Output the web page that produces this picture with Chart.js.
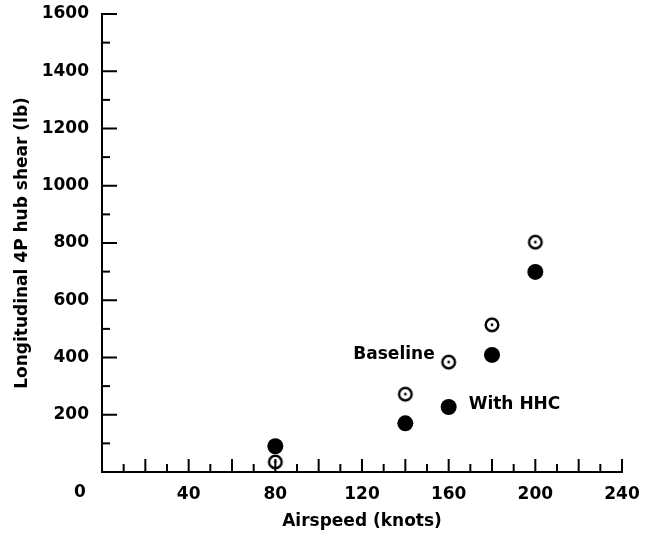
<!DOCTYPE html>
<html>
<head>
<meta charset="utf-8">
<script src="https://cdn.jsdelivr.net/npm/chart.js@4.4.1/dist/chart.umd.min.js"></script>
<style>
  html, body { margin: 0; padding: 0; background: #fff; }
  #wrap { width: 649px; height: 544px; }
</style>
</head>
<body>
<div id="wrap"><canvas id="chart" width="649" height="544"></canvas></div>
<script>
const airspeed = [80, 140, 160, 180, 200];
const baseline = [35, 272, 384, 514, 803];
const withHHC = [90, 170, 227, 409, 699];
const xTickLabels = [0, 40, 80, 120, 160, 200, 240];
const yTickLabels = [200, 400, 600, 800, 1000, 1200, 1400, 1600];

const FONT = '"DejaVu Sans", "Liberation Sans", Arial, sans-serif';

// open circle with a dot in the middle
const ringDot = document.createElement('canvas');
ringDot.width = 18;
ringDot.height = 18;
(function () {
    const c = ringDot.getContext('2d');
    c.strokeStyle = '#000';
    c.lineWidth = 2.4;
    c.beginPath();
    c.arc(9, 9, 6.3, 0, Math.PI * 2);
    c.stroke();
    c.fillStyle = '#000';
    c.beginPath();
    c.arc(9, 9, 1.4, 0, Math.PI * 2);
    c.fill();
})();

const axisDecor = {
    id: 'axisDecor',
    afterDraw(chart) {
        const ctx = chart.ctx;
        const x = chart.scales.x;
        const y = chart.scales.y;
        ctx.save();
        ctx.strokeStyle = '#000';
        ctx.lineWidth = 2;
        // inward ticks on the y axis
        for (let v = 100; v <= 1600; v += 100) {
            const py = y.getPixelForValue(v);
            const len = v % 200 === 0 ? 15 : 8;
            ctx.beginPath();
            ctx.moveTo(x.left, py);
            ctx.lineTo(x.left + len, py);
            ctx.stroke();
        }
        // inward ticks on the x axis
        for (let v = 10; v <= 240; v += 10) {
            const px = x.getPixelForValue(v);
            const len = v % 20 === 0 ? 13 : 8;
            ctx.beginPath();
            ctx.moveTo(px, y.bottom);
            ctx.lineTo(px, y.bottom - len);
            ctx.stroke();
        }
        // origin label sits left of the corner
        ctx.fillStyle = '#000';
        ctx.font = 'bold 17px ' + FONT;
        ctx.textAlign = 'center';
        ctx.textBaseline = 'middle';
        ctx.fillText('0', x.getPixelForValue(0) - 22, y.bottom + 21);

        // series labels next to the 160-knot points
        const i = airspeed.indexOf(160);
        const bx = x.getPixelForValue(airspeed[i]);
        ctx.textAlign = 'right';
        ctx.fillText('Baseline', bx - 14, y.getPixelForValue(baseline[i]) - 8);
        ctx.textAlign = 'left';
        ctx.fillText('With HHC', bx + 20, y.getPixelForValue(withHHC[i]) - 2);
        ctx.restore();
    }
};

new Chart(document.getElementById('chart'), {
    type: 'scatter',
    data: {
        datasets: [
            {
                label: 'Baseline',
                data: airspeed.map((a, i) => ({ x: a, y: baseline[i] })),
                pointStyle: ringDot,
                pointRadius: 9
            },
            {
                label: 'With HHC',
                data: airspeed.map((a, i) => ({ x: a, y: withHHC[i] })),
                pointStyle: 'circle',
                pointRadius: 8,
                backgroundColor: '#000',
                borderColor: '#000',
                borderWidth: 0
            }
        ]
    },
    options: {
        responsive: false,
        animation: false,
        layout: { padding: { left: 0, top: 14, right: 27, bottom: 0 } },
        plugins: {
            legend: { display: false },
            tooltip: { enabled: false }
        },
        scales: {
            x: {
                type: 'linear',
                min: 0,
                max: 240,
                afterFit: s => {
                    s.height = 72;
                    s.paddingLeft = 0;
                    s.paddingRight = 0;
                },
                grid: { display: false, drawTicks: false },
                border: { display: true, color: '#000', width: 2 },
                ticks: {
                    stepSize: 40,
                    padding: 12,
                    color: '#000',
                    font: { family: FONT, size: 17, weight: 'bold' },
                    callback: v => (v !== 0 && xTickLabels.includes(v)) ? String(v) : ''
                },
                title: {
                    display: true,
                    text: 'Airspeed (knots)',
                    color: '#000',
                    font: { family: FONT, size: 17, weight: 'bold' },
                    padding: { top: 0, bottom: 12 }
                }
            },
            y: {
                type: 'linear',
                min: 0,
                max: 1600,
                afterFit: s => {
                    s.width = 102;
                    s.paddingTop = 0;
                    s.paddingBottom = 0;
                },
                grid: { display: false, drawTicks: false },
                border: { display: true, color: '#000', width: 2 },
                ticks: {
                    stepSize: 200,
                    padding: 13,
                    color: '#000',
                    font: { family: FONT, size: 17, weight: 'bold' },
                    callback: v => yTickLabels.includes(v) ? String(v) : ''
                },
                title: {
                    display: true,
                    text: 'Longitudinal 4P hub shear (lb)',
                    color: '#000',
                    font: { family: FONT, size: 17, weight: 'bold' },
                    padding: { top: 12, bottom: 0 }
                }
            }
        }
    },
    plugins: [axisDecor]
});
</script>
</body>
</html>
